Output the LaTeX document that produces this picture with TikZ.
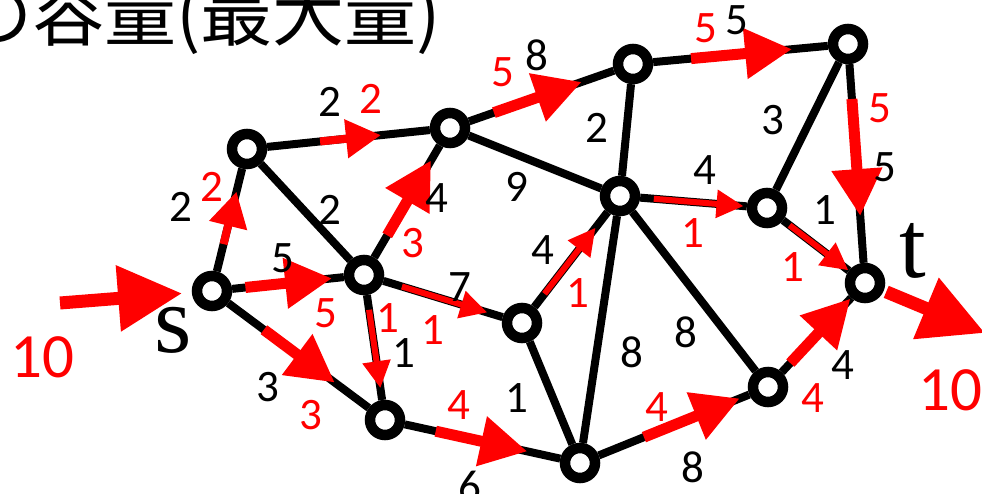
\documentclass[tikz,border=0pt]{standalone}
\usepackage{fontspec}
\setmainfont{Carlito}
\newfontfamily\serifont{Liberation Serif}
\newfontfamily\jpfont{Noto Sans CJK JP}
\usetikzlibrary{arrows.meta,calc}

\newcommand{\numfont}{\fontsize{45}{48}\selectfont}
\newcommand{\bignumfont}{\fontsize{63}{66}\selectfont}

\begin{document}
\begin{tikzpicture}[
  x=1pt, y=-1pt,
  vtx/.style={circle, draw=black, line width=10.5pt, fill=white,
              minimum size=30pt, inner sep=0pt},
  edge/.style={line width=8pt, black},
  capl/.style={font=\numfont, inner sep=0pt},
  amt/.style={font=\numfont, text=red, inner sep=0pt},
  flw/.style={red, line width=6pt, -{Triangle[length=27pt,width=27pt]}},
  mflw/.style={red, line width=8pt, -{Triangle[length=35pt,width=37pt]}},
  bflw/.style={red, line width=11pt, -{Triangle[length=47pt,width=48pt]}},
  hflw/.style={red, line width=13pt, -{Triangle[length=64pt,width=63pt]}},
]
\useasboundingbox (0,0) rectangle (982,494);
\clip (0,0) rectangle (982,494);

% Title (cut at the left)
\node[anchor=base west, font=\jpfont\fontsize{72}{76}\selectfont, inner sep=0pt]
  (title) at (-40,41) {の容量(最大量)};

% Vertices
\node[vtx] (s) at (212,291) {};
\node[vtx] (a) at (247,149) {};
\node[vtx] (b) at (450,128) {};
\node[vtx] (c) at (633,64) {};
\node[vtx] (d) at (848,44) {};
\node[vtx] (e) at (364,275) {};
\node[vtx] (f) at (620,196) {};
\node[vtx] (g) at (767,208) {};
\node[vtx] (h) at (522,323) {};
\node[vtx] (i) at (385,420) {};
\node[vtx] (j) at (580,463) {};
\node[vtx] (k) at (768,387) {};
\node[vtx] (t) at (865,283) {};

\node[font=\serifont\fontsize{96}{100}\selectfont, inner sep=0pt] (slab) at (173,330) {s};
\node[font=\serifont\fontsize{96}{100}\selectfont, inner sep=0pt, anchor=base] (tlab) at (913,277) {t};

% Edges
\draw[edge] (s) -- (a);
\draw[edge] (s) -- (e);
\draw[edge] (s) -- (i);
\draw[edge] (a) -- (b);
\draw[edge] (a) -- (e);
\draw[edge] (e) -- (b);
\draw[edge] (b) -- (c);
\draw[edge] (b) -- (f);
\draw[edge] (c) -- (f);
\draw[edge] (c) -- (d);
\draw[edge] (d) -- (g);
\draw[edge] (d) -- (t);
\draw[edge] (f) -- (g);
\draw[edge] (g) -- (t);
\draw[edge] (e) -- (h);
\draw[edge] (e) -- (i);
\draw[edge] (h) -- (f);
\draw[edge] (h) -- (j);
\draw[edge] (i) -- (j);
\draw[edge] (f) -- (j);
\draw[edge] (f) -- (k);
\draw[edge] (j) -- (k);
\draw[edge] (k) -- (t);

% Flows
\draw[mflw] ($(s)!0.33!(a)$) -- ($(s)!0.70!(a)$);
\draw[bflw] ($(s)!0.22!(e)$) -- ($(s)!0.79!(e)$);
\draw[bflw] ($(s)!0.30!(i)$) -- ($(s)!0.71!(i)$);
\draw[mflw] ($(a)!0.36!(b)$) -- ($(a)!0.66!(b)$);
\draw[bflw] ($(e)!0.27!(b)$) -- ($(e)!0.78!(b)$);
\draw[bflw] ($(b)!0.24!(c)$) -- ($(b)!0.72!(c)$);
\draw[bflw] ($(c)!0.27!(d)$) -- ($(c)!0.74!(d)$);
\draw[bflw] ($(d)!0.23!(t)$) -- ($(d)!0.72!(t)$);
\draw[flw] ($(f)!0.23!(g)$) -- ($(f)!0.84!(g)$);
\draw[flw] ($(g)!0.23!(t)$) -- ($(g)!0.83!(t)$);
\draw[flw] ($(e)!0.24!(h)$) -- ($(e)!0.78!(h)$);
\draw[flw] ($(e)!0.24!(i)$) -- ($(e)!0.78!(i)$);
\draw[flw] ($(h)!0.23!(f)$) -- ($(h)!0.75!(f)$);
\draw[bflw] ($(i)!0.26!(j)$) -- ($(i)!0.73!(j)$);
\draw[bflw] ($(j)!0.34!(k)$) -- ($(j)!0.85!(k)$);
\draw[bflw] ($(k)!0.23!(t)$) -- ($(k)!0.85!(t)$);

% Source and sink
\coordinate (src) at (60,303);
\coordinate (snk) at (985,333);
\draw[hflw] (src) -- ($(s)!30pt!(src)$);
\draw[hflw] ($(t)!23pt!(snk)$) -- (snk);
\node[font=\bignumfont, text=red, inner sep=0pt] (inval) at (42,357) {10};
\node[font=\bignumfont, text=red, inner sep=0pt] (outval) at (950,390) {10};

% Capacities
\node[capl] (c1) at (181,207) {2};
\node[capl] (c2) at (283,258) {5};
\node[capl] (c3) at (268,387) {3};
\node[capl] (c4) at (330,102) {2};
\node[capl] (c5) at (330,210) {2};
\node[capl] (c6) at (437,198) {4};
\node[capl] (c7) at (537,55) {8};
\node[capl] (c8) at (517,187) {9};
\node[capl] (c9) at (597,128) {2};
\node[capl] (c10) at (737,20) {5};
\node[capl] (c11) at (773,120) {3};
\node[capl] (c12) at (885,167) {5};
\node[capl] (c13) at (705,170) {4};
\node[capl] (c14) at (825,210) {1};
\node[capl] (c15) at (460,287) {7};
\node[capl] (c16) at (404,353) {1};
\node[capl] (c17) at (543,250) {4};
\node[capl] (c18) at (517,398) {1};
\node[capl] (c19) at (470,486) {6};
\node[capl] (c20) at (632,352) {8};
\node[capl] (c21) at (686,332) {8};
\node[capl] (c22) at (693,467) {8};
\node[capl] (c23) at (843,365) {4};

% Flow values
\node[amt] (f1) at (212,187) {2};
\node[amt] (f2) at (326,313) {5};
\node[amt] (f3) at (311,415) {3};
\node[amt] (f4) at (371,99) {2};
\node[amt] (f6) at (413,243) {3};
\node[amt] (f7) at (503,72) {5};
\node[amt] (f10) at (706,28) {5};
\node[amt] (f12) at (880,108) {5};
\node[amt] (f13) at (693,233) {1};
\node[amt] (f14) at (793,267) {1};
\node[amt] (f15) at (433,330) {1};
\node[amt] (f16) at (388,318) {1};
\node[amt] (f17) at (578,293) {1};
\node[amt] (f19) at (459,405) {4};
\node[amt] (f22) at (657,407) {4};
\node[amt] (f23) at (813,398) {4};

\end{tikzpicture}
\end{document}
